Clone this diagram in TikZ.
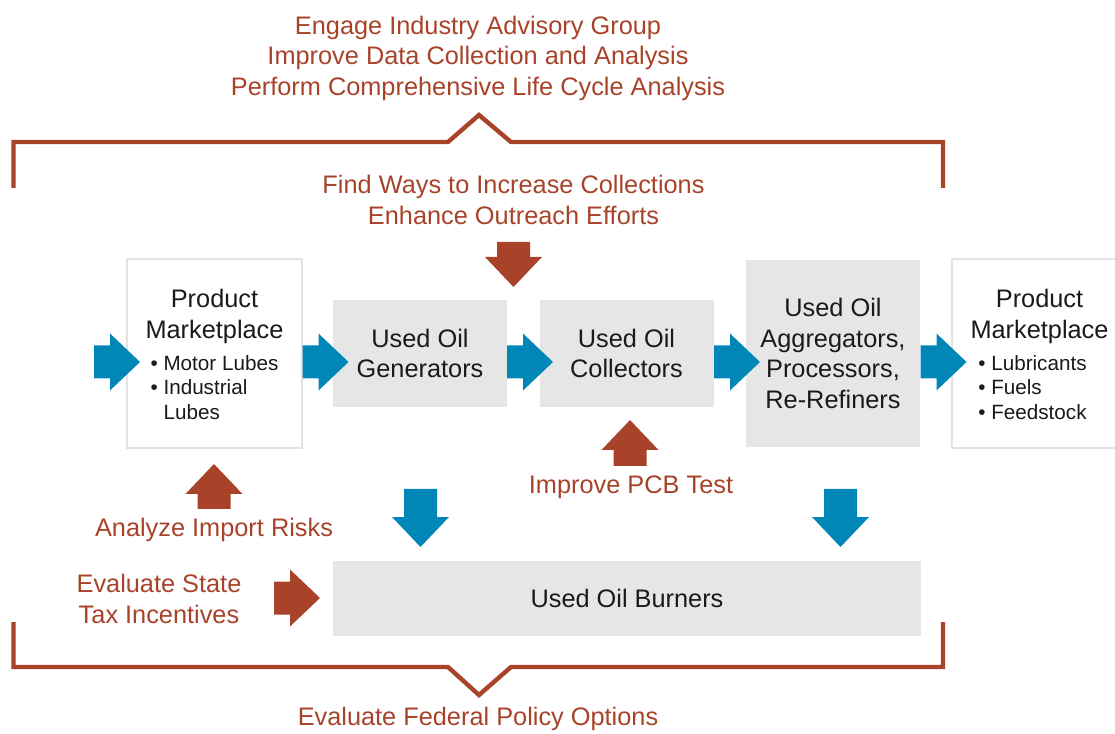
\documentclass[tikz,border=0pt]{standalone}
\usepackage{fontspec}
\setmainfont{Liberation Sans}
\usetikzlibrary{positioning}
\definecolor{oilRed}{HTML}{A8432A}
\definecolor{oilBlue}{HTML}{0087B8}
\definecolor{oilGray}{HTML}{E6E6E6}
\definecolor{oilRim}{HTML}{E3E3E3}
\definecolor{oilInk}{HTML}{1A1A1A}
\newcommand\bigfont{\fontsize{19}{22.9}\selectfont}
\newcommand\listfont{\fontsize{15.5}{18.4}\selectfont}
\tikzset{
  stage/.style={fill=oilGray, text=oilInk, align=center, font=\bigfont,
        inner sep=2pt, minimum width=130.5pt, minimum height=80.25pt},
  market/.style={draw=oilRim, fill=white, line width=1.5pt, text=oilInk,
        align=center, font=\bigfont, minimum width=131pt, minimum height=141.75pt},
  marklab/.style={text=oilInk, align=center, font=\bigfont},
  action/.style={text=oilRed, align=center, font=\bigfont, inner sep=1pt},
  bracket/.style={draw=oilRed, line width=3.3pt},
  blockarrow/.pic={
    \fill[pic actions] ({-#1/2},-16.5) -- ({#1/2-30},-16.5) -- ({#1/2-30},-28.5)
      -- ({#1/2},0) -- ({#1/2-30},28.5) -- ({#1/2-30},16.5) -- ({-#1/2},16.5) -- cycle;
  }
}

\begin{document}
\begin{tikzpicture}[x=0.75pt, y=-0.75pt]
\useasboundingbox (0,0) rectangle (1115,734);

% brackets
\draw[bracket] (13.5,188) -- (13.5,142) -- (448,142) -- (479,115) -- (511,142)
   -- (943,142) -- (943,188);
\draw[bracket] (13.5,622) -- (13.5,667) -- (448,667) -- (479,695) -- (511,667)
   -- (943,667) -- (943,622);

% stages
\node[market] (pm1) at (214.5,353.5) {};
\node[marklab] (pm1txt) at (214.5,358) {Product\\Marketplace\\[1.1pt]
  \listfont\begin{tabular}[t]{@{}l@{}}\textbullet\ Motor Lubes\\
  \textbullet\ Industrial\\ \phantom{\textbullet\ }Lubes\end{tabular}};
\node[stage] (gen) at (420,353.5) {Used Oil\\Generators};
\node[stage] (col) at (626.5,353.5) {Used Oil\\Collectors};
\node[stage, minimum height=140.25pt] (agg) at (833,353.5)
  {Used Oil\\Aggregators,\\Processors,\\Re-Refiners};
\node[market] (pm2) at (1039.5,353.5) {};
\node[marklab] (pm2txt) at (1039.5,358) {Product\\Marketplace\\[1.1pt]
  \listfont\begin{tabular}[t]{@{}l@{}}\textbullet\ Lubricants\\
  \textbullet\ Fuels\\ \textbullet\ Feedstock\end{tabular}\hspace*{10.5pt}};
\node[stage, minimum width=441pt, minimum height=56.25pt] (burn) at (627,598.5)
  {Used Oil Burners};

% flow arrows
\foreach \x in {117,325.5,530,737,943.5}
  \pic[fill=oilBlue] at (\x,362) {blockarrow=46};
\foreach \x in {420.5,840.5}
  \pic[fill=oilBlue, rotate=-90] at (\x,518) {blockarrow=58};

% policy arrows
\pic[fill=oilRed, rotate=-90] at (513.5,264.5) {blockarrow=45};
\pic[fill=oilRed, rotate=90] at (630,443) {blockarrow=46};
\pic[fill=oilRed, rotate=90] at (214,486.5) {blockarrow=45};
\pic[fill=oilRed] at (297,598) {blockarrow=46};

% policy actions
\node[action] (top) at (478,58) {Engage Industry Advisory Group\\
  Improve Data Collection and Analysis\\Perform Comprehensive Life Cycle Analysis};
\node[action] (outreach) at (513.5,200) {Find Ways to Increase Collections\\
  Enhance Outreach Efforts};
\node[action] (pcb) at (631,487) {Improve PCB Test};
\node[action] (imports) at (214,530) {Analyze Import Risks};
\node[action] (tax) at (159,599) {Evaluate State\\Tax Incentives};
\node[action] (federal) at (478,719) {Evaluate Federal Policy Options};
\end{tikzpicture}
\end{document}
